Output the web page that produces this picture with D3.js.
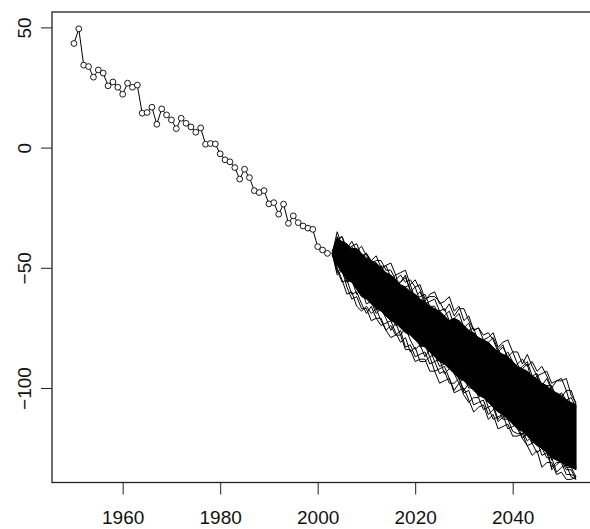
<!DOCTYPE html>
<html>
<head>
<meta charset="utf-8">
<script src="https://cdn.jsdelivr.net/npm/d3@7"></script>
<style>
  html, body { margin: 0; padding: 0; background: #fff; }
  svg { display: block; }
  text { font-family: "Liberation Sans", Arial, sans-serif; }
</style>
</head>
<body>
<div id="chart"></div>
<script>
// observed series
const histYears = [1950,1951,1952,1953,1954,1955,1956,1957,1958,1959,1960,1961,1962,1963,1964,1965,1966,1967,1968,1969,
  1970,1971,1972,1973,1974,1975,1976,1977,1978,1979,1980,1981,1982,1983,1984,1985,1986,1987,1988,1989,
  1990,1991,1992,1993,1994,1995,1996,1997,1998,1999,2000,2001,2002];
const histValues = [43.3,49.4,34.3,33.7,29.3,32.3,31,25.7,27.3,25.1,22.2,26.8,25.1,26,14.3,14.6,16.8,9.7,16.1,13.6,
  11.5,7.9,12.2,10.1,8.6,6.4,8.2,1.4,1.7,1.5,-2.6,-5.1,-5.9,-8.3,-13.1,-9,-12.5,-17.9,-18.7,-17.9,
  -23.4,-22.9,-27.7,-23.5,-31.5,-28.4,-31.2,-32.6,-33.5,-34,-41.2,-42.6,-44];

// simulated paths
const simYears = [2003,2004,2005,2006,2007,2008,2009,2010,2011,2012,2013,2014,2015,2016,2017,2018,2019,2020,2021,2022,
  2023,2024,2025,2026,2027,2028,2029,2030,2031,2032,2033,2034,2035,2036,2037,2038,2039,2040,2041,2042,
  2043,2044,2045,2046,2047,2048,2049,2050,2051,2052,2053];

// dense core of the simulations (nearly solid black)
const coreUpper = [-43,-38,-39,-40,-42,-42,-44,-46,-47,-48,-50,-52,-53,-55,-57,-58,-60,-61,-63,-64,
  -66,-67,-68,-70,-72,-71,-72,-74,-76,-77,-79,-80,-81,-83,-85,-86,-87,-89,-91,-92,
  -93,-95,-96,-98,-99,-101,-102,-103,-105,-106,-107];
const coreLower = [-45,-49,-52,-55,-56,-59,-62,-63,-65,-67,-68,-70,-72,-73,-75,-77,-78,-80,-82,-83,
  -85,-87,-89,-90,-92,-94,-96,-97,-99,-101,-103,-104,-106,-108,-110,-111,-113,-115,-117,-118,
  -120,-122,-124,-125,-127,-129,-130,-131,-132,-133,-134];

const simA = [-44,-35,-41,-40,-45,-44,-49,-48,-47,-52,-49,-53,-58,-56,-56,-53,-60,-58,-64,-68,
  -66,-72,-70,-70,-74,-72,-75,-80,-79,-84,-84,-82,-82,-87,-87,-92,-91,-90,-95,-92,
  -90,-98,-97,-103,-101,-100,-105,-104,-101,-108,-107];
const simB = [-44,-38,-37,-42,-39,-43,-41,-45,-48,-47,-47,-51,-51,-55,-53,-56,-55,-58,-57,-63,
  -62,-62,-64,-68,-65,-70,-67,-67,-72,-76,-75,-78,-77,-80,-85,-83,-87,-85,-85,-90,
  -86,-91,-95,-94,-93,-98,-97,-97,-96,-103,-106];
const simC = [-44,-41,-45,-43,-41,-47,-46,-52,-50,-48,-53,-57,-55,-53,-60,-58,-57,-63,-62,-61,
  -66,-66,-71,-70,-68,-74,-72,-78,-76,-75,-81,-85,-83,-86,-84,-82,-88,-92,-90,-95,
  -99,-97,-95,-101,-99,-99,-104,-108,-106,-110,-109];
const simD = [-44,-50,-55,-61,-60,-66,-68,-66,-69,-67,-72,-76,-74,-78,-76,-83,-82,-87,-86,-85,
  -90,-89,-94,-93,-98,-98,-96,-102,-101,-107,-106,-105,-111,-109,-108,-113,-113,-118,-119,-119,
  -118,-123,-127,-125,-129,-129,-135,-133,-132,-137,-138];
const simE = [-44,-52,-50,-56,-55,-61,-59,-65,-64,-69,-67,-71,-76,-73,-78,-75,-80,-84,-82,-87,
  -84,-89,-88,-94,-92,-91,-96,-101,-98,-98,-104,-102,-108,-107,-113,-111,-110,-115,-114,-118,
  -122,-120,-119,-125,-124,-130,-128,-128,-133,-133,-137];
const simF = [-44,-48,-52,-52,-56,-56,-61,-60,-65,-64,-64,-69,-69,-74,-73,-72,-78,-77,-83,-82,
  -87,-86,-91,-90,-88,-94,-98,-96,-100,-100,-99,-104,-103,-108,-114,-112,-112,-111,-117,-121,
  -119,-123,-120,-125,-124,-134,-132,-130,-134,-134,-138];
const simG = [-44,-43,-48,-45,-49,-46,-50,-50,-54,-51,-56,-60,-58,-61,-59,-63,-67,-64,-69,-66,
  -70,-75,-72,-76,-80,-78,-76,-82,-81,-86,-84,-87,-85,-89,-94,-91,-96,-93,-98,-103,
  -100,-99,-104,-104,-108,-106,-109,-114,-111,-115,-113];
const simH = [-44,-49,-47,-54,-52,-58,-56,-62,-60,-60,-66,-64,-71,-69,-69,-74,-73,-79,-78,-78,
  -83,-82,-81,-87,-90,-89,-88,-94,-92,-99,-98,-96,-102,-101,-100,-107,-107,-106,-112,-116,
  -114,-114,-119,-118,-117,-123,-127,-125,-128,-127,-133];
const simI = [-44,-37,-43,-41,-44,-42,-46,-44,-48,-53,-51,-49,-54,-58,-56,-54,-59,-62,-60,-65,
  -64,-63,-68,-67,-72,-71,-69,-75,-73,-79,-79,-83,-81,-79,-84,-87,-85,-89,-93,-91,
  -89,-95,-94,-99,-96,-101,-104,-102,-105,-104,-108];
const simJ = [-44,-51,-56,-55,-61,-60,-65,-69,-66,-71,-74,-73,-72,-77,-81,-79,-85,-83,-89,-89,
  -87,-93,-92,-91,-96,-101,-98,-103,-106,-104,-104,-109,-108,-113,-112,-111,-117,-116,-115,-121,
  -124,-123,-122,-128,-127,-133,-131,-131,-136,-136,-137];
const simK = [-44,-39,-37,-43,-41,-40,-45,-44,-47,-45,-50,-49,-48,-53,-52,-51,-57,-55,-59,-64,
  -61,-60,-65,-64,-62,-68,-66,-72,-70,-76,-75,-80,-79,-77,-83,-81,-80,-85,-90,-88,
  -91,-89,-93,-91,-95,-100,-97,-96,-101,-101,-107];
const simL = [-44,-53,-51,-58,-63,-62,-67,-67,-72,-71,-71,-76,-79,-78,-78,-84,-84,-89,-88,-88,
  -93,-93,-98,-97,-96,-102,-101,-100,-105,-110,-108,-107,-113,-111,-117,-116,-115,-120,-120,-119,
  -124,-128,-126,-133,-131,-131,-136,-135,-138,-138,-137];

const simPaths = [simA, simB, simC, simD, simE, simF, simG, simH, simI, simJ, simK, simL];

const yTicks = [-100, -50, 0, 50];
const xTicks = [1960, 1980, 2000, 2020, 2040];

const width = 590, height = 529;
const plotLeft = 52, plotTop = 12, plotBottom = 482.5, plotRight = 644.3;

const svg = d3.select('#chart')
  .append('svg')
    .attr('width', width)
    .attr('height', height);

const x = d3.scaleLinear().domain([1945.5, 2067]).range([plotLeft, plotRight]);
const y = d3.scaleLinear().domain([-139.3, 56.4]).range([plotBottom, plotTop]);

// simulations: core band then individual paths
const band = d3.area()
  .x((d, i) => x(simYears[i]))
  .y0((d, i) => y(coreLower[i]))
  .y1((d, i) => y(coreUpper[i]));

svg.append('path')
  .datum(coreUpper)
  .attr('d', band)
  .attr('fill', '#000')
  .attr('stroke', '#000')
  .attr('stroke-width', 1);

const simLine = d3.line()
  .x((d, i) => x(simYears[i]))
  .y(d => y(d));

svg.append('g')
  .attr('class', 'sims')
  .selectAll('path')
  .data(simPaths).enter()
  .append('path')
    .attr('d', simLine)
    .attr('fill', 'none')
    .attr('stroke', '#000')
    .attr('stroke-width', 1);

// observed line + open circles
const hist = histYears.map((yr, i) => ({ year: yr, value: histValues[i] }));

svg.append('path')
  .datum(hist)
  .attr('d', d3.line().x(d => x(d.year)).y(d => y(d.value)))
  .attr('fill', 'none')
  .attr('stroke', '#000')
  .attr('stroke-width', 1);

svg.append('g')
  .selectAll('circle')
  .data(hist).enter()
  .append('circle')
    .attr('cx', d => x(d.year))
    .attr('cy', d => y(d.value))
    .attr('r', 2.9)
    .attr('fill', '#fff')
    .attr('stroke', '#000')
    .attr('stroke-width', 0.9);

// box
svg.append('rect')
  .attr('x', plotLeft)
  .attr('y', plotTop)
  .attr('width', plotRight - plotLeft)
  .attr('height', plotBottom - plotTop)
  .attr('fill', 'none')
  .attr('stroke', '#222')
  .attr('stroke-width', 1.3);

// x axis
const xAxis = svg.append('g')
  .attr('transform', `translate(0,${plotBottom})`)
  .call(d3.axisBottom(x).tickValues(xTicks).tickFormat(d3.format('d')).tickSize(12).tickPadding(16.5));
xAxis.select('.domain').remove();
xAxis.selectAll('line').attr('stroke', '#222');
xAxis.selectAll('text')
  .attr('font-size', 19)
  .attr('font-family', '"Liberation Sans", Arial, sans-serif')
  .attr('fill', '#111');

// y axis, labels parallel to axis
const yAxis = svg.append('g')
  .attr('transform', `translate(${plotLeft},0)`)
  .call(d3.axisLeft(y).tickValues(yTicks).tickSize(11).tickFormat(d3.format('d')));
yAxis.select('.domain').remove();
yAxis.selectAll('line').attr('stroke', '#222');
yAxis.selectAll('text')
  .attr('font-size', 19)
  .attr('font-family', '"Liberation Sans", Arial, sans-serif')
  .attr('fill', '#111')
  .attr('x', null)
  .attr('dy', null)
  .attr('text-anchor', 'middle')
  .attr('transform', 'translate(-21,0) rotate(-90)');
</script>
</body>
</html>
